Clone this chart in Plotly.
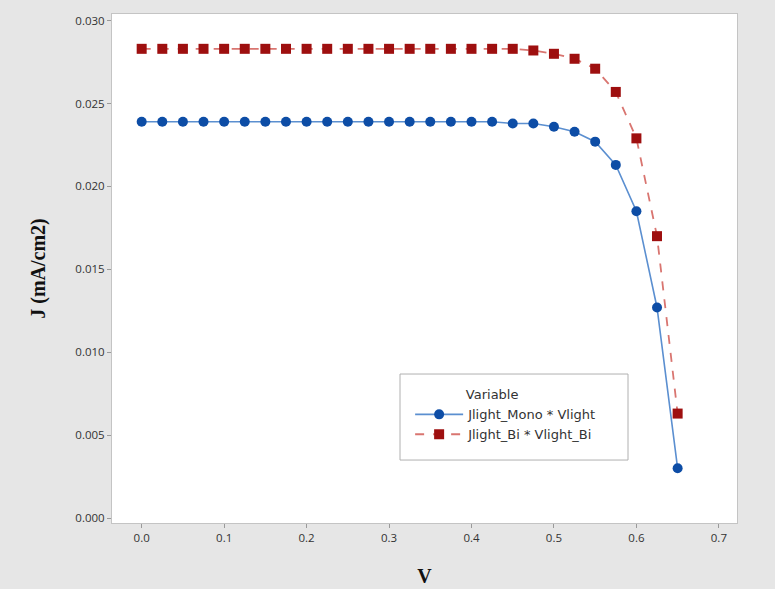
import plotly.graph_objects as go

# Voltage sweep (V)
v = [0.000, 0.025, 0.050, 0.075, 0.100, 0.125, 0.150, 0.175, 0.200, 0.225,
     0.250, 0.275, 0.300, 0.325, 0.350, 0.375, 0.400, 0.425, 0.450, 0.475,
     0.500, 0.525, 0.550, 0.575, 0.600, 0.625, 0.650]

# Current density, monofacial cell (mA/cm2)
j_mono = [0.0239, 0.0239, 0.0239, 0.0239, 0.0239, 0.0239, 0.0239, 0.0239, 0.0239, 0.0239,
          0.0239, 0.0239, 0.0239, 0.0239, 0.0239, 0.0239, 0.0239, 0.0239, 0.0238, 0.0238,
          0.0236, 0.0233, 0.0227, 0.0213, 0.0185, 0.0127, 0.0030]

# Current density, bifacial cell (mA/cm2)
j_bi = [0.0283, 0.0283, 0.0283, 0.0283, 0.0283, 0.0283, 0.0283, 0.0283, 0.0283, 0.0283,
        0.0283, 0.0283, 0.0283, 0.0283, 0.0283, 0.0283, 0.0283, 0.0283, 0.0283, 0.0282,
        0.0280, 0.0277, 0.0271, 0.0257, 0.0229, 0.0170, 0.0063]

x_ticks = [0.0, 0.1, 0.2, 0.3, 0.4, 0.5, 0.6, 0.7]
y_ticks = [0.000, 0.005, 0.010, 0.015, 0.020, 0.025, 0.030]

fig = go.Figure()
fig.add_trace(go.Scatter(
    x=v, y=j_mono, mode="lines+markers", name="Jlight_Mono * Vlight",
    line=dict(color="#5b8fd0", width=1.6),
    marker=dict(symbol="circle", size=10, color="#0d4da6"),
))
fig.add_trace(go.Scatter(
    x=v, y=j_bi, mode="lines+markers", name="Jlight_Bi * Vlight_Bi",
    line=dict(color="#d97570", width=1.8, dash="dash"),
    marker=dict(symbol="square", size=10, color="#9e0f0f"),
))

axis_common = dict(
    showgrid=False, zeroline=False, showline=True, mirror=True, automargin=False,
    linecolor="#c4c4c4", linewidth=1, ticks="outside", ticklen=4,
    tickcolor="#9a9a9a", tickfont=dict(family="Open Sans", size=11.5, color="#333333"),
)

# Legend frame drawn as a shape so it can be padded like the original
fig.add_shape(
    type="rect", xref="paper", yref="paper",
    x0=0.4608, x1=0.8256, y0=0.1237, y1=0.2927,
    line=dict(color="#b0b0b0", width=1), fillcolor="white", layer="above",
)

fig.update_layout(
    width=775, height=589,
    margin=dict(l=112, r=38, t=14, b=66),
    paper_bgcolor="#e6e6e6", plot_bgcolor="white",
    showlegend=True,
    legend=dict(
        title=dict(text="\u00a0" * 13 + "Variable",
                   font=dict(family="DejaVu Sans", size=13, color="#333333")),
        font=dict(family="DejaVu Sans", size=13, color="#333333"),
        x=0.477, y=0.276, xanchor="left", yanchor="top",
        bgcolor="rgba(0,0,0,0)", borderwidth=0,
        itemwidth=48, tracegroupgap=0,
    ),
    xaxis=dict(
        range=[-0.036, 0.722], tickvals=x_ticks, tickformat=".1f",
        title=dict(text="<b>V</b>", font=dict(family="Liberation Serif", size=20, color="#111111"), standoff=25),
        **axis_common,
    ),
    yaxis=dict(
        range=[-0.0003, 0.0304], tickvals=y_ticks, tickformat=".3f",
        title=dict(text="<b>J (mA/cm2)</b>", font=dict(family="Liberation Serif", size=20, color="#111111"), standoff=24),
        **axis_common,
    ),
)

fig.write_html("out.html")
